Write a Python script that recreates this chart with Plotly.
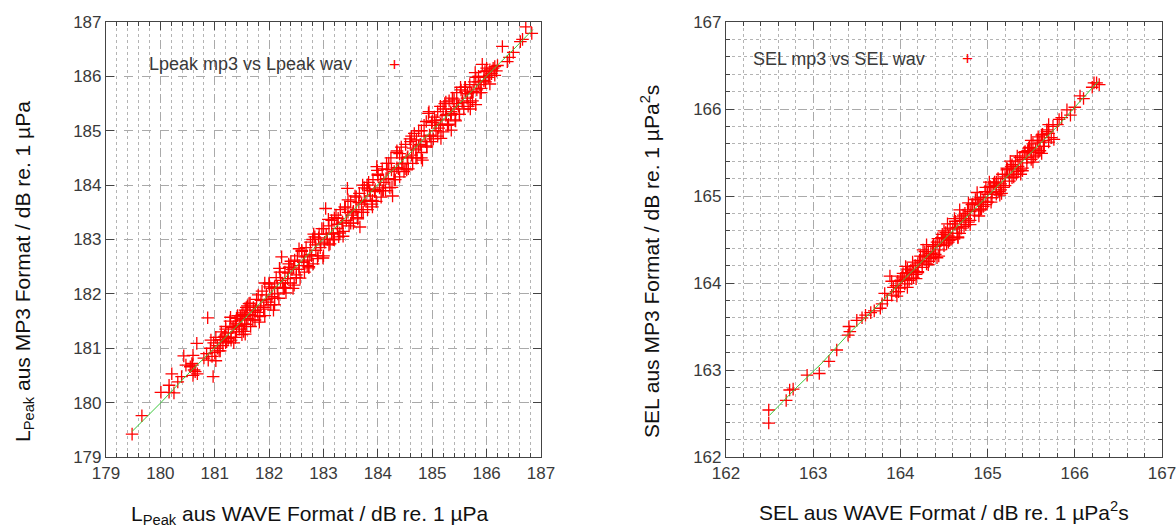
import plotly.graph_objects as go

# ---------------- Left panel: Lpeak ----------------
lpeak_wav = [
179.48,179.66,180.01,180.16,180.25,180.16,180.21,180.32,180.39,180.43,180.47,180.59,180.60,180.64,180.68,180.67,180.87,180.97,180.60,180.62,180.58,180.55,
180.80,180.85,180.88,180.92,180.95,180.98,181.00,181.02,181.05,181.08,181.10,181.12,181.15,181.18,181.20,181.22,181.25,181.28,181.30,181.32,181.35,181.38,181.40,181.42,181.45,181.48,181.50,181.52,181.55,181.58,
181.50,181.53,181.56,181.58,181.61,181.63,181.66,181.69,181.71,181.74,181.77,181.79,181.82,181.84,181.87,181.90,181.92,181.95,181.98,182.00,
182.03,182.05,182.08,182.10,182.13,182.16,182.18,182.21,182.23,182.26,182.29,182.31,182.34,182.36,182.39,182.42,182.44,182.47,182.50,182.52,
182.55,182.57,182.60,182.63,182.65,182.68,182.71,182.73,182.76,182.78,182.81,182.84,182.86,182.89,182.92,182.94,182.97,182.99,183.02,183.04,
183.07,183.10,183.12,183.15,183.18,183.20,183.23,183.26,183.28,183.31,183.34,183.36,183.39,183.42,183.44,183.47,183.50,183.52,183.55,183.58,
183.60,183.63,183.66,183.67,183.70,183.73,183.75,183.78,183.81,183.83,183.86,183.89,183.91,183.94,183.97,183.98,184.00,184.03,184.06,184.08,
184.11,184.14,184.16,184.19,184.22,184.24,184.27,184.30,184.32,184.35,184.38,184.40,184.43,184.46,184.48,184.51,184.54,184.56,184.59,184.62,
184.64,184.67,184.70,184.72,184.75,184.78,184.80,184.82,184.85,184.88,184.90,184.93,184.94,184.96,184.99,185.02,185.04,185.07,185.10,185.12,
185.15,185.18,185.20,185.23,185.26,185.28,185.31,185.34,185.35,185.37,185.40,185.42,185.45,185.48,185.50,185.53,185.56,185.58,185.61,185.64,
185.66,185.69,185.72,185.74,185.77,185.80,185.82,185.85,185.88,185.90,185.92,185.95,185.98,186.00,186.03,186.06,186.09,186.12,186.15,186.18,
186.20,186.29,186.38,186.42,186.49,186.62,186.66,186.72,186.83,
181.05,181.15,181.25,181.35,181.45,181.55,181.65,181.75,181.85,181.95,182.05,182.15,182.25,182.35,182.45,182.55,182.65,182.75,182.85,182.95,
183.05,183.15,183.25,183.35,183.45,183.55,183.65,183.75,183.85,183.95,184.05,184.15,184.25,184.35,184.45,184.55,184.65,184.75,184.85,184.95,
185.05,185.15,185.25,185.35,185.45,185.55,185.65,185.75,185.85,185.95,186.05,186.15,
181.10,181.20,181.30,181.40,181.50,181.60,181.70,181.80,181.90,182.00,182.10,182.20,182.30,182.40,182.50,182.60,182.70,182.80,182.90,183.00,
183.10,183.20,183.30,183.40,183.50,183.60,183.70,183.80,183.90,184.00,184.10,184.20,184.30,184.40,184.50,184.60,184.70,184.80,184.90,185.00,
185.10,185.20,185.30,185.40,185.50,185.60,185.70,185.80,185.90,186.00,
180.93,181.02,181.11,181.20,181.29,181.38,181.47,181.56,181.65,181.74,181.83,181.92,182.01,182.10,182.19,182.28,182.37,182.46,182.55,182.64,
182.73,182.82,182.91,183.00,183.09,183.18,183.27,183.36,183.45,183.54,183.63,183.72,183.81,183.90,183.99,184.08,184.17,184.26,184.35,184.44,
184.53,184.62,184.71,184.80,184.89,184.98,185.07,185.16,185.25,185.34,185.43,185.52,185.61,185.70,185.79,185.88,185.97,186.06,
]
lpeak_mp3 = [
179.42,179.76,180.19,180.19,180.18,180.32,180.53,180.38,180.48,180.86,180.69,180.69,180.87,180.57,180.53,181.09,181.56,180.48,180.50,180.60,180.72,180.66,
180.82,180.90,180.78,181.00,180.85,181.10,180.92,181.20,181.05,180.95,181.15,181.30,181.05,181.22,181.40,181.12,181.28,181.50,181.20,181.38,181.10,181.45,181.30,181.60,181.35,181.52,181.25,181.65,181.45,181.75,
181.62,181.31,181.70,181.44,181.55,181.82,181.40,181.60,181.75,181.52,181.90,181.66,181.48,181.78,182.05,181.72,181.60,181.98,181.85,182.20,
181.80,181.95,181.70,182.12,182.30,182.00,181.92,182.25,182.68,182.10,182.40,182.02,182.28,182.55,182.20,182.45,182.10,182.62,182.35,182.70,
182.45,182.29,182.80,182.58,182.40,182.85,182.62,182.50,182.95,182.70,182.55,183.05,182.80,182.65,183.10,182.85,183.20,182.66,182.95,183.57,
183.00,183.25,182.92,183.35,183.10,183.00,183.45,183.20,183.05,183.55,183.30,183.15,183.60,183.35,183.94,183.25,183.70,183.45,183.30,183.80,
183.55,183.40,183.85,183.23,183.65,183.50,183.95,183.70,183.55,184.05,183.80,183.65,184.10,183.88,183.70,184.34,184.20,183.95,183.78,184.30,
184.05,183.90,184.40,184.12,183.95,184.50,183.80,184.25,184.10,184.60,184.30,184.15,184.70,184.40,184.25,184.75,184.50,184.30,184.85,184.55,
184.40,184.95,184.65,184.50,185.00,184.75,184.60,184.46,185.10,184.80,184.70,185.32,185.35,184.90,185.15,184.85,185.25,185.00,185.35,185.05,
185.45,185.20,184.98,185.50,185.30,185.10,185.55,185.35,185.01,185.60,185.40,185.20,185.70,185.45,185.30,185.75,185.55,185.40,185.80,185.60,
185.45,185.85,185.70,185.55,185.90,185.48,185.75,186.00,185.85,185.70,186.22,186.00,185.90,186.10,185.98,186.12,186.05,186.15,186.02,186.10,
186.20,186.55,186.27,186.35,186.44,186.64,186.68,186.91,186.79,
181.00,181.20,181.18,181.40,181.42,181.58,181.62,181.70,181.88,181.90,182.10,182.12,182.20,182.38,182.48,182.52,182.68,182.72,182.90,182.92,
183.10,183.12,183.28,183.32,183.50,183.52,183.68,183.72,183.90,183.92,184.10,184.12,184.28,184.32,184.50,184.52,184.68,184.72,184.90,184.92,
185.10,185.12,185.28,185.32,185.50,185.52,185.68,185.72,185.90,185.92,186.02,186.18,
180.95,181.35,181.15,181.55,181.40,181.78,181.52,181.98,181.75,182.18,181.92,182.40,182.12,182.60,182.30,182.78,182.52,183.00,182.70,183.20,
182.90,183.40,183.12,183.58,183.30,183.78,183.50,184.00,183.72,184.18,183.90,184.40,184.10,184.58,184.30,184.80,184.50,185.00,184.72,185.18,
184.90,185.40,185.12,185.58,185.30,185.80,185.52,185.98,185.78,186.15,
181.15,180.77,181.16,181.10,181.57,181.20,181.59,181.26,181.83,181.69,181.58,182.20,182.13,181.80,182.47,182.10,182.49,182.16,182.83,182.59,
182.48,183.10,183.03,182.70,183.37,183.00,183.39,183.06,183.73,183.49,183.38,184.00,183.93,183.60,184.27,183.90,184.29,183.96,184.63,184.39,
184.28,184.90,184.83,184.50,185.17,184.80,185.19,184.86,185.53,185.29,185.18,185.80,185.73,185.40,186.07,185.70,186.09,185.86,
]
lpeak_fit_x = [179.48, 180.0, 180.5, 181.0, 181.5, 182.0, 182.5, 183.0, 183.5, 184.0, 184.5, 185.0, 185.5, 186.0, 186.5, 186.85]
lpeak_fit_y = [179.47, 179.99, 180.52, 181.01, 181.50, 181.99, 182.51, 183.01, 183.49, 184.01, 184.50, 185.01, 185.50, 186.01, 186.50, 186.86]

# ---------------- Right panel: SEL ----------------
sel_wav = [
162.49,162.49,162.69,162.73,162.77,162.93,163.07,163.18,163.27,163.40,163.41,163.42,163.50,163.56,163.60,163.66,163.70,163.77,163.79,163.82,163.85,
163.88,163.90,163.92,163.95,163.97,164.00,164.02,164.05,164.07,164.10,164.12,164.15,164.17,164.20,164.22,164.25,164.27,164.30,164.32,164.35,
164.37,164.40,164.42,164.45,164.47,164.50,164.52,164.55,164.57,164.60,164.62,164.65,164.66,164.68,164.70,164.72,164.75,164.77,164.80,164.82,
164.85,164.88,164.90,164.92,164.95,164.97,165.00,165.02,165.05,165.07,165.10,165.12,165.15,165.17,165.20,165.22,165.25,165.27,165.30,165.32,
165.35,165.37,165.40,165.42,165.45,165.47,165.50,165.52,165.55,165.57,165.60,165.62,165.65,165.68,165.70,165.73,165.75,165.80,165.85,165.91,
165.95,166.00,166.06,166.10,166.20,166.25,166.28,166.22,
163.95,164.00,164.05,164.10,164.15,164.20,164.25,164.30,164.35,164.40,164.45,164.50,164.55,164.60,164.65,164.70,164.75,164.80,164.85,164.90,
164.95,165.00,165.05,165.10,165.15,165.20,165.25,165.30,165.35,165.40,165.45,165.50,165.55,165.60,165.65,165.70,
163.98,164.08,164.18,164.28,164.38,164.48,164.58,164.68,164.78,164.88,164.98,165.08,165.18,165.28,165.38,165.48,165.58,165.68,
164.03,164.13,164.23,164.33,164.43,164.53,164.63,164.73,164.83,164.93,165.03,165.13,165.23,165.33,165.43,165.53,165.63,
163.90,163.96,164.02,164.08,164.14,164.20,164.26,164.32,164.38,164.44,164.50,164.56,164.62,164.68,164.74,164.80,164.86,164.92,164.98,165.04,
165.10,165.16,165.22,165.28,165.34,165.40,165.46,165.52,165.58,165.64,165.70,165.76,165.82,
164.06,164.18,164.30,164.42,164.54,164.66,164.78,164.90,165.02,165.14,165.26,165.38,165.50,165.62,
]
sel_mp3 = [
162.54,162.39,162.65,162.77,162.78,162.94,162.96,163.10,163.23,163.40,163.50,163.44,163.57,163.60,163.63,163.66,163.68,163.71,163.76,163.88,163.80,
164.08,163.86,163.95,163.90,164.02,163.94,164.06,163.99,164.12,164.03,164.15,164.06,164.20,164.12,164.26,164.18,164.30,164.22,164.36,164.28,
164.42,164.33,164.47,164.38,164.52,164.43,164.58,164.47,164.63,164.52,164.68,164.57,164.52,164.84,164.63,164.78,164.67,164.84,164.72,164.90,
164.78,165.04,164.83,164.98,164.88,165.05,164.93,165.10,164.98,165.14,165.02,165.20,165.07,165.25,165.12,165.30,165.17,165.34,165.22,165.40,
165.28,165.44,165.32,165.50,165.38,165.55,165.42,165.60,165.47,165.64,165.52,165.70,165.57,165.74,165.62,165.67,165.80,165.82,165.90,165.99,
165.93,166.02,166.15,166.12,166.25,166.30,166.28,166.30,
163.97,164.03,164.04,164.12,164.14,164.22,164.24,164.32,164.34,164.42,164.44,164.52,164.54,164.62,164.64,164.72,164.74,164.82,164.84,164.92,
164.94,165.02,165.04,165.12,165.14,165.22,165.24,165.32,165.34,165.42,165.44,165.52,165.54,165.62,165.64,165.72,
163.90,164.16,164.10,164.36,164.30,164.56,164.50,164.76,164.70,164.96,164.90,165.16,165.10,165.36,165.30,165.56,165.50,165.76,
164.11,164.05,164.31,164.25,164.51,164.45,164.71,164.65,164.91,164.85,165.11,165.05,165.31,165.25,165.51,165.45,165.71,
164.02,163.85,164.08,163.95,164.24,164.13,164.38,164.21,164.44,164.31,164.60,164.49,164.74,164.57,164.80,164.67,164.96,164.85,165.10,164.93,
165.16,165.03,165.32,165.21,165.46,165.29,165.52,165.39,165.68,165.57,165.82,165.65,165.88,
164.19,164.05,164.44,164.29,164.68,164.53,164.92,164.77,165.16,165.01,165.40,165.25,165.64,165.49,
]
sel_fit_x = [162.50, 162.80, 163.10, 163.40, 163.80, 164.20, 164.60, 165.00, 165.40, 165.80, 166.27]
sel_fit_y = [162.48, 162.79, 163.08, 163.41, 163.80, 164.20, 164.61, 165.01, 165.41, 165.80, 166.32]

left_ticks = [179, 180, 181, 182, 183, 184, 185, 186, 187]
right_ticks = [162, 163, 164, 165, 166, 167]

FONT = "Liberation Sans, Arial, sans-serif"
TXT = "#3a3a3a"
marker = dict(symbol="cross-thin", size=9, color="red", line=dict(width=1.3, color="red"))

W, H = 1176, 529

def PX(x):
    return x / W

def PY(y):
    return 1 - y / H

fig = go.Figure()
fig.add_trace(go.Scatter(x=lpeak_wav, y=lpeak_mp3, mode="markers", marker=marker,
                         xaxis="x", yaxis="y", showlegend=False))
fig.add_trace(go.Scatter(x=lpeak_fit_x, y=lpeak_fit_y, mode="lines",
                         line=dict(color="#3cc83c", width=1), xaxis="x", yaxis="y", showlegend=False))
fig.add_trace(go.Scatter(x=sel_wav, y=sel_mp3, mode="markers", marker=marker,
                         xaxis="x2", yaxis="y2", showlegend=False))
fig.add_trace(go.Scatter(x=sel_fit_x, y=sel_fit_y, mode="lines",
                         line=dict(color="#3cc83c", width=1), xaxis="x2", yaxis="y2", showlegend=False))

def ax(domain, rng, ticks, minor, anchor):
    d = dict(
        domain=domain, range=rng, anchor=anchor, automargin=False,
        tickmode="array", tickvals=ticks, ticktext=[str(t) for t in ticks],
        ticklabeloverflow="allow",
        showline=True, linecolor="#444444", linewidth=1.2, mirror="ticks",
        ticks="inside", ticklen=8, tickcolor="#444444", tickwidth=1,
        showgrid=True, gridcolor="#aaaaaa", griddash="dash", gridwidth=1,
        zeroline=False,
        tickfont=dict(family=FONT, size=17, color=TXT),
    )
    if minor:
        d["minor"] = dict(dtick=0.2, ticks="inside", ticklen=4, tickcolor="#444444",
                          showgrid=True, gridcolor="#b4b4b4", griddash="dot", gridwidth=1)
    return d

ydom = [PY(457), PY(22)]
fig.update_layout(
    width=W, height=H,
    margin=dict(l=0, r=0, t=0, b=0),
    paper_bgcolor="white", plot_bgcolor="white",
    xaxis=ax([PX(106), PX(541)], [179, 187], left_ticks, True, "y"),
    yaxis=ax(ydom, [179, 187], left_ticks, False, "x"),
    xaxis2=ax([PX(726), PX(1162)], [162, 167], right_ticks, True, "y2"),
    yaxis2=ax(ydom, [162, 167], right_ticks, True, "x2"),
)

tfont = dict(family=FONT, size=21, color="#111111")
# axis titles
fig.add_annotation(xref="paper", yref="paper", x=PX(310), y=PY(515), xanchor="center", yanchor="middle",
                   text="L<sub>Peak</sub> aus WAVE Format / dB re. 1 µPa", showarrow=False, font=tfont)
fig.add_annotation(xref="paper", yref="paper", x=PX(944), y=PY(511), xanchor="center", yanchor="middle",
                   text="SEL aus WAVE Format / dB re. 1 µPa<sup>2</sup>s", showarrow=False, font=tfont)
fig.add_annotation(xref="paper", yref="paper", x=PX(24), y=PY(272), xanchor="center", yanchor="middle",
                   textangle=-90, text="L<sub>Peak</sub> aus MP3 Format / dB re. 1 µPa", showarrow=False, font=tfont)
fig.add_annotation(xref="paper", yref="paper", x=PX(650), y=PY(262), xanchor="center", yanchor="middle",
                   textangle=-90, text="SEL aus MP3 Format / dB re. 1 µPa<sup>2</sup>s", showarrow=False, font=tfont)

# key (gnuplot-style: text then sample)
kfont = dict(family=FONT, size=18, color=TXT)
fig.add_annotation(xref="paper", yref="paper", x=PX(147), y=PY(64), xanchor="left", yanchor="middle",
                   text="Lpeak mp3 vs Lpeak wav", showarrow=False, font=kfont)
fig.add_annotation(xref="paper", yref="paper", x=PX(394), y=PY(64), xanchor="center", yanchor="middle",
                   text="+", showarrow=False, font=dict(family=FONT, size=19, color="red"))
fig.add_annotation(xref="paper", yref="paper", x=PX(751), y=PY(59), xanchor="left", yanchor="middle",
                   text="SEL mp3 vs SEL wav", showarrow=False, font=kfont)
fig.add_annotation(xref="paper", yref="paper", x=PX(967), y=PY(59), xanchor="center", yanchor="middle",
                   text="+", showarrow=False, font=dict(family=FONT, size=19, color="red"))

fig.write_html("out.html", config={"displayModeBar": False},
               post_script="document.body.style.margin='0px';")
